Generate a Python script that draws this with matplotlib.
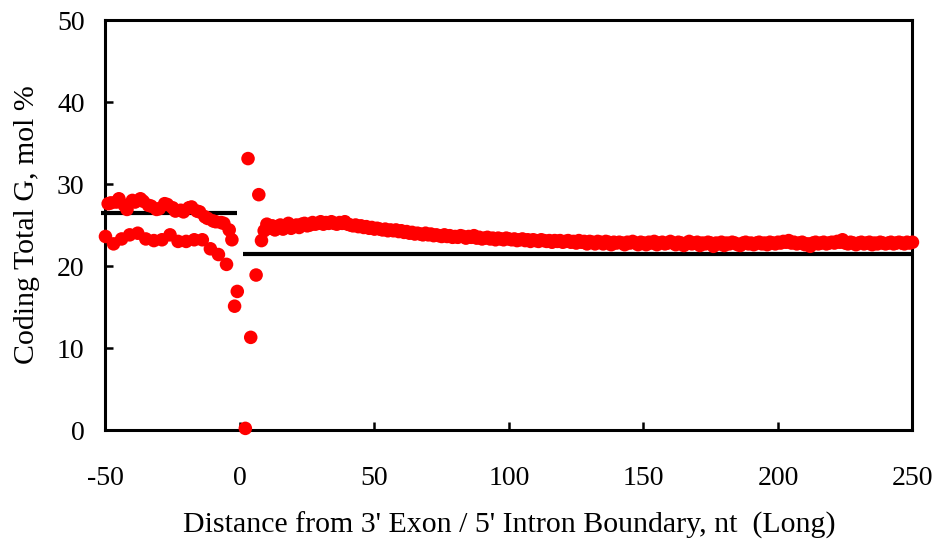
import matplotlib.pyplot as plt
import numpy as np

# left of boundary (exon side), two interleaved groups
exon_hi_x = [-49, -48, -46, -45, -43, -42, -40, -39, -37, -36, -34, -33, -31, -30, -28, -27,
             -25, -24, -22, -21, -19, -18, -16, -15, -13, -12, -10, -9, -7, -6, -4, -3, -1]
exon_hi_y = [27.6, 27.7, 27.8, 28.2, 27.4, 26.9, 28.0, 27.8, 28.2, 27.9, 27.4, 27.3, 26.9, 27.0, 27.6, 27.5,
             27.1, 26.7, 26.8, 26.6, 27.1, 27.2, 26.7, 26.6, 26.0, 25.8, 25.5, 25.4, 25.3, 25.2, 24.4, 23.2, 16.9]

exon_lo_x = [-50, -47, -44, -41, -38, -35, -32, -29, -26, -23, -20, -17, -14, -11, -8, -5, -2]
exon_lo_y = [23.6, 22.7, 23.3, 23.8, 24.0, 23.3, 23.1, 23.2, 23.8, 23.0, 23.0, 23.2, 23.2, 22.1, 21.4, 20.2, 15.1]

# right of boundary (intron side)
intron_x = [2, 3, 4, 6, 7, 8] + list(range(9, 251))
intron_y = [0.2, 33.1, 11.3, 18.9, 28.7, 23.1,
            # 9-20
            24.3, 25.1, 24.6, 24.9, 24.4, 24.8, 25.0, 24.5, 24.9, 25.2, 24.6, 24.9,
            # 21-40
            25.0, 24.7, 25.1, 25.2, 24.9, 25.0, 25.3, 25.1, 25.2, 25.4,
            25.1, 25.3, 25.2, 25.4, 25.2, 25.1, 25.3, 25.2, 25.4, 25.1,
            # 41-60
            25.0, 24.9, 25.0, 24.8, 24.9, 24.7, 24.8, 24.6, 24.7, 24.5,
            24.6, 24.5, 24.4, 24.5, 24.3, 24.4, 24.3, 24.4, 24.2, 24.3,
            # 61-80
            24.1, 24.2, 24.0, 24.1, 23.9, 24.0, 23.9, 23.8, 24.0, 23.8,
            23.9, 23.7, 23.8, 23.7, 23.6, 23.8, 23.6, 23.7, 23.5, 23.6,
            # 81-100
            23.5, 23.7, 23.6, 23.4, 23.6, 23.5, 23.7, 23.4, 23.5, 23.3,
            23.4, 23.5, 23.3, 23.4, 23.2, 23.4, 23.3, 23.2, 23.4, 23.3,
            # 101-120
            23.2, 23.3, 23.1, 23.2, 23.3, 23.1, 23.2, 23.0, 23.2, 23.1,
            23.0, 23.2, 23.1, 23.0, 23.1, 22.9, 23.1, 23.0, 23.1, 22.9,
            # 121-140
            23.0, 23.1, 22.9, 23.0, 22.8, 23.1, 22.9, 23.0, 22.7, 23.0,
            22.9, 22.7, 23.0, 22.9, 22.7, 23.0, 22.9, 22.6, 22.9, 22.8,
            # 141-160
            22.9, 22.8, 22.6, 22.9, 22.8, 23.0, 22.8, 22.6, 22.9, 22.8,
            22.6, 22.9, 22.8, 23.0, 22.6, 22.8, 22.9, 22.7, 22.8, 23.0,
            # 161-180
            22.8, 22.6, 22.9, 22.8, 22.5, 22.8, 23.0, 22.7, 22.8, 22.9,
            22.5, 22.8, 22.7, 22.9, 22.8, 22.4, 22.8, 22.7, 22.9, 22.5,
            # 181-200
            22.8, 22.7, 22.9, 22.8, 22.6, 22.5, 22.8, 22.9, 22.7, 22.8,
            22.6, 22.8, 22.9, 22.7, 22.8, 22.6, 22.9, 22.8, 22.7, 22.9,
            # 201-220
            22.8, 23.0, 22.9, 23.1, 22.8, 22.9, 22.7, 22.8, 22.9, 22.6,
            22.7, 22.4, 22.8, 22.9, 22.7, 22.8, 22.9, 22.7, 22.8, 22.9,
            # 221-240
            22.8, 23.0, 22.9, 23.2, 22.8, 22.7, 22.9, 22.8, 22.6, 22.8,
            22.9, 22.7, 22.8, 22.9, 22.6, 22.8, 22.7, 22.9, 22.8, 22.7,
            # 241-250
            22.8, 22.9, 22.7, 22.8, 22.9, 22.8, 22.7, 22.9, 22.8, 22.9]

# mean lines
exon_mean = 26.5
exon_span = [-51.5, -1]
intron_mean = 21.5
intron_span = [1, 250]

plt.rcParams['font.family'] = ['Liberation Serif', 'DejaVu Serif']
plt.rcParams['axes.unicode_minus'] = False

fig = plt.figure(figsize=(9.4, 5.48), dpi=100)
ax = fig.add_axes([0.1122, 0.2153, 0.8585, 0.7482])

ax.plot(exon_span, [exon_mean, exon_mean], color='black', lw=3, solid_capstyle='butt',
        clip_on=False, zorder=2)
ax.plot(intron_span, [intron_mean, intron_mean], color='black', lw=3, solid_capstyle='butt',
        zorder=2)

dot = dict(s=95, color='#ff0000', edgecolors='none', zorder=3, clip_on=False)
ax.scatter(exon_hi_x, exon_hi_y, **dot)
ax.scatter(exon_lo_x, exon_lo_y, **dot)
ax.scatter(intron_x, intron_y, **dot)

ax.set_xlim(-50, 250)
ax.set_ylim(0, 50)
ax.set_xticks(np.arange(-50, 251, 50))
ax.set_yticks(np.arange(0, 51, 10))

for s in ax.spines.values():
    s.set_linewidth(2.2)
ax.tick_params(axis='both', direction='in', length=6, width=1.8, labelsize=20)
ax.tick_params(axis='y', pad=15)
ax.tick_params(axis='x', pad=26)

ax.set_xlabel("Distance from 3' Exon / 5' Intron Boundary, nt  (Long)", fontsize=21.5, labelpad=15)
ax.set_ylabel("Coding Total G, mol %", fontsize=21.5, labelpad=12)

fig.savefig('out.png', dpi=100)
